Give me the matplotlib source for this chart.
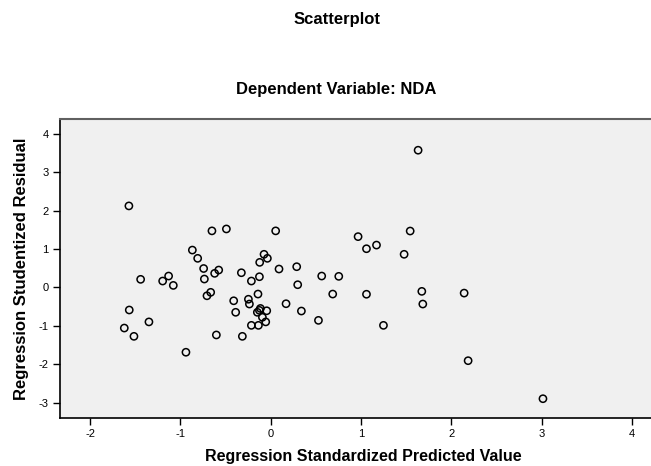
import matplotlib.pyplot as plt

plt.rcParams['font.family'] = ['Liberation Sans', 'DejaVu Sans']
plt.rcParams['axes.unicode_minus'] = False

# Regression standardized predicted value (x) vs studentized residual (y)
pred = [-1.571, -0.651, -0.491, 0.055, -0.868, -0.809, -0.743, -0.735, -0.621, -0.576,
        -1.441, -1.197, -1.131, -1.079, -0.706, -0.665, -0.325, -0.214, -0.125, -0.122,
        -0.074, -0.037, 0.092, 0.288, 0.299, 0.565, -0.141, -0.410, -0.247, -0.236,
        -0.388, 0.170, 0.340, -1.567, -1.622, -1.515, -1.349, -0.939, -0.602, -0.314,
        -0.214, -0.136, -0.055, -0.044, -0.092, -0.114, -0.125, -0.148, 1.633, 0.968,
        1.061, 1.172, 1.545, 1.478, 0.754, 0.687, 1.061, 1.674, 1.685, 2.143,
        0.529, 1.249, 2.187, 3.016]
resid = [2.12, 1.47, 1.52, 1.47, 0.97, 0.755, 0.49, 0.216, 0.364, 0.45,
         0.208, 0.164, 0.294, 0.05, -0.22, -0.13, 0.38, 0.164, 0.276, 0.65,
         0.86, 0.755, 0.477, 0.537, 0.068, 0.294, -0.175, -0.35, -0.31, -0.435,
         -0.65, -0.427, -0.617, -0.59, -1.06, -1.276, -0.90, -1.69, -1.24, -1.276,
         -0.99, -0.99, -0.90, -0.61, -0.78, -0.55, -0.60, -0.65, 3.57, 1.32,
         1.005, 1.10, 1.466, 0.86, 0.286, -0.175, -0.18, -0.105, -0.435, -0.15,
         -0.86, -0.99, -1.91, -2.90]

xticks = [-2, -1, 0, 1, 2, 3, 4]
yticks = [-3, -2, -1, 0, 1, 2, 3, 4]

fig = plt.figure(figsize=(6.51, 4.66), dpi=100)
ax = fig.add_axes([0.0922, 0.104, 0.9078, 0.640])
ax.set_facecolor('#f0f0f0')

ax.scatter(pred, resid, s=27, facecolors='none', edgecolors='black', linewidths=1.1,
           zorder=3)

ax.set_xlim(-2.334, 4.213)
ax.set_ylim(-3.39, 4.375)
ax.set_xticks(xticks)
ax.set_yticks(yticks)
ax.tick_params(direction='out', length=5.3, width=1, labelsize=8, pad=3)

ax.spines['right'].set_visible(False)
ax.spines['top'].set_color('#606060')
ax.spines['top'].set_linewidth(1.5)
ax.spines['left'].set_linewidth(1.2)
ax.spines['bottom'].set_linewidth(1.2)

ax.set_xlabel('Regression Standardized Predicted Value', fontsize=11.5, fontweight='bold',
              va='center')
ax.xaxis.set_label_coords(0.513, -0.131)
ax.set_ylabel('Regression Studentized Residual', fontsize=12, fontweight='bold',
              va='center')
ax.yaxis.set_label_coords(-0.066, 0.5)

fig.text(0.5177, 0.959, 'Scatterplot', ha='center', va='center', fontsize=12,
         fontweight='bold')
fig.text(0.516, 0.807, 'Dependent Variable: NDA', ha='center', va='center', fontsize=12,
         fontweight='bold')

fig.savefig('out.png', dpi=100)
